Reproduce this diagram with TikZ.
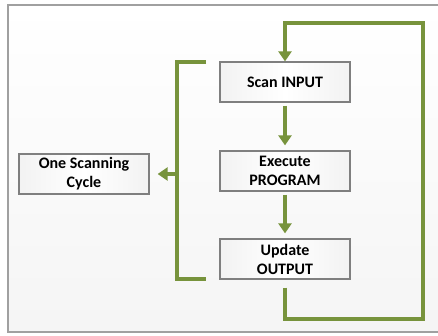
\documentclass[tikz,border=0pt]{standalone}
\usepackage{fontspec}
\setmainfont{Carlito}
\usetikzlibrary{arrows.meta,shadows}
\definecolor{plcgreen}{HTML}{77933C}
\definecolor{framegray}{HTML}{A0A0A0}
\definecolor{boxgray}{HTML}{7F7F7F}
\tikzset{
  stepbox/.style={draw=boxgray, line width=1.3pt,
    left color=gray!10, right color=gray!10, middle color=white,
    minimum width=130pt, minimum height=40pt, inner sep=0pt,
    align=center, font=\bfseries\fontsize{16}{19}\selectfont,
    drop shadow={opacity=0.25, shadow xshift=1pt, shadow yshift=-1pt}},
  flow/.style={draw=plcgreen, line width=3.3pt,
    -{Triangle[length=10pt,width=13pt]}},
  bracketline/.style={draw=plcgreen, line width=3.3pt}
}
\begin{document}
\begin{tikzpicture}[x=1pt,y=-1pt]
\useasboundingbox (0,0) rectangle (438,335);
\fill[white] (0,0) rectangle (438,335);
\shade[top color=white, bottom color=gray!8] (8,5) rectangle (440,332);
\draw[framegray, line width=1.2pt] (440,5) -- (8,5) -- (8,332) -- (440,332);

\node[stepbox] (scan) at (285,82) {Scan INPUT};
\node[stepbox] (exec) at (285,171) {Execute\\PROGRAM};
\node[stepbox] (upd)  at (285,259) {Update\\OUTPUT};
\node[stepbox] (one)  at (84,174) {One Scanning\\Cycle};

\coordinate (btop) at (206,62);
\coordinate (bbot) at (206,279);
\coordinate (bmid) at (177,174);
\coordinate (lowright) at (423,319);
\coordinate (upright) at (423,23);

\draw[flow, shorten <=3pt, shorten >=5pt] (scan.south) -- (exec.north);
\draw[flow, shorten <=3pt, shorten >=5pt] (exec.south) -- (upd.north);
\draw[flow, shorten <=8pt] (upd.south) |- (lowright) -- (upright) -| (scan.north);
\draw[bracketline] (btop) -| (bmid) |- (bbot);
\draw[flow, shorten >=8pt] (bmid) -- (one.east);
\end{tikzpicture}
\end{document}
